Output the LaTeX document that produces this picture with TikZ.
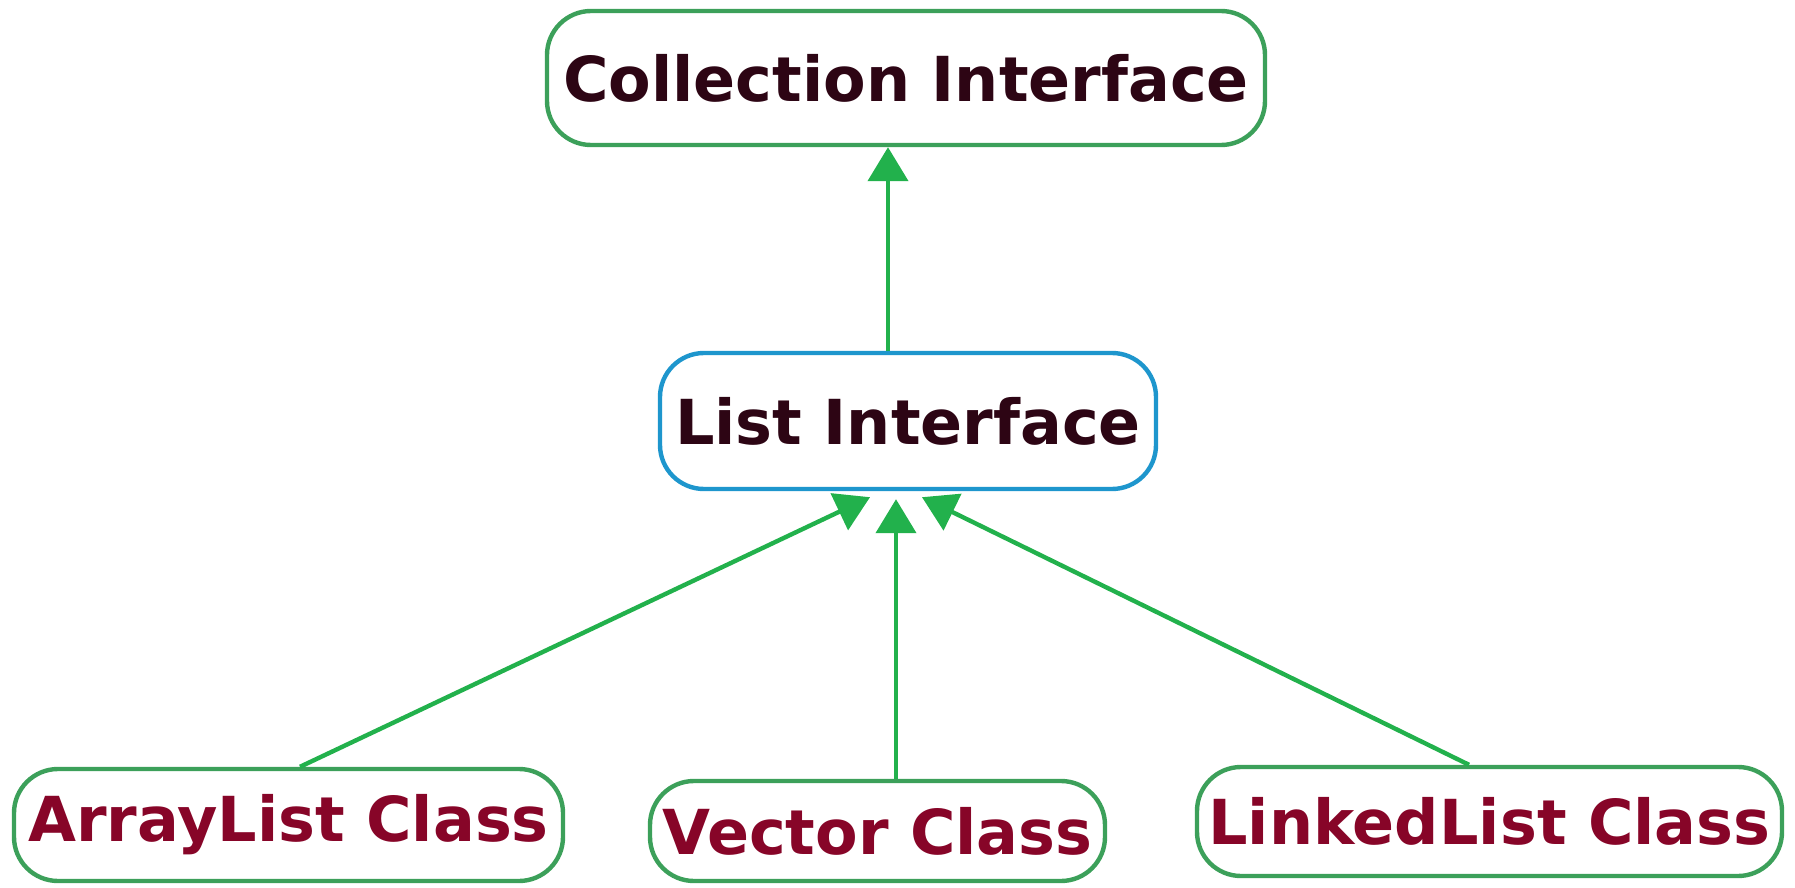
\documentclass[tikz,border=0pt]{standalone}
\usepackage{fontspec}
\setmainfont{DejaVu Sans}
\usetikzlibrary{arrows.meta}
\definecolor{boxgreen}{RGB}{60,160,90}
\definecolor{arrgreen}{RGB}{34,177,76}
\definecolor{boxblue}{RGB}{30,150,205}
\definecolor{topink}{RGB}{45,5,20}
\definecolor{botink}{RGB}{135,5,40}
\begin{document}
\begin{tikzpicture}[x=0.5pt,y=-0.5pt,
  box/.style={draw=boxgreen,line width=2.2pt,rounded corners=22pt,fill=white,
    inner sep=0pt,font=\fontsize{31}{36}\selectfont\bfseries},
  topbox/.style={box,text=topink},
  botbox/.style={box,text=botink},
  arr/.style={draw=arrgreen,line width=2.2pt,-{Triangle[length=17pt,width=20pt]}}]
\useasboundingbox (0,0) rectangle (1795,888);
\node[topbox,minimum width=359pt,minimum height=67pt] (coll) at (906,78) {Collection Interface};
\node[topbox,draw=boxblue,minimum width=248pt,minimum height=68pt] (list) at (908,421) {List Interface};
\node[botbox,minimum width=274.5pt,minimum height=56pt] (al) at (288.5,825) {ArrayList Class};
\node[botbox,minimum width=227.5pt,minimum height=50pt] (vec) at (877.5,831) {Vector Class};
\node[botbox,minimum width=292.5pt,minimum height=54.5pt] (ll) at (1489.5,821.5) {LinkedList Class};
\draw[arr] ([xshift=-10pt]list.north) -- ([xshift=-10pt]list.north |- coll.south);
\draw[arr] ([xshift=5.75pt]al.north) -- ([xshift=-19pt,yshift=-3pt]list.south);
\draw[arr] ([xshift=9.25pt]vec.north) -- ([xshift=-6pt,yshift=-4pt]list.south);
\draw[arr] ([xshift=-10.25pt]ll.north) -- ([xshift=7pt,yshift=-3pt]list.south);
\end{tikzpicture}
\end{document}
